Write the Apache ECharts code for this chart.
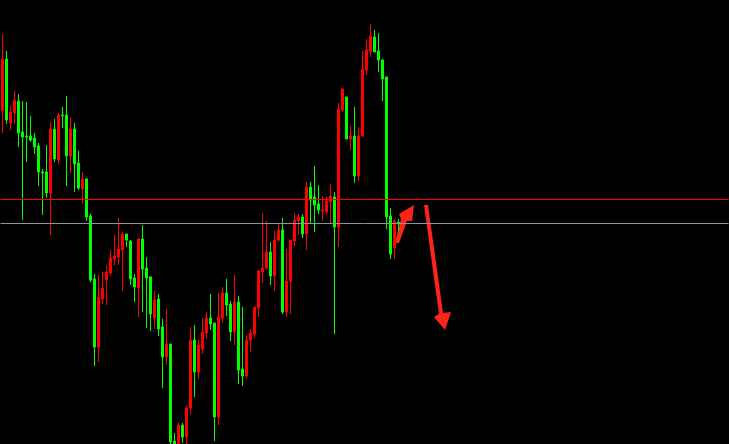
<!DOCTYPE html>
<html>
<head>
<meta charset="utf-8">
<script src="https://cdn.jsdelivr.net/npm/echarts@6/dist/echarts.min.js"></script>
<style>
html,body{margin:0;padding:0;background:#000;}
#chart{width:729px;height:444px;}
</style>
</head>
<body>
<div id="chart"></div>
<script>
// Price values (arbitrary points scale)
const opens  = [333,385,321,331,343,312,308,308,306,298,272,272,251,315,284,329,329,288,315,281,255,265,228,165,97,145,164,171,185,187,194,210,203,166,156,205,176,167,126,145,117,87,100,3,-4,19,7,36,104,72,95,111,126,121,27,126,151,140,112,142,75,68,104,110,136,172,176,192,168,204,214,132,163,203,223,227,210,257,247,240,233,232,242,247,217,334,347,305,308,268,308,374,392,407,393,384,367,228,196,222];
const closes = [385,324,332,344,311,307,307,304,297,272,271,251,315,285,329,328,288,315,280,256,265,227,164,97,147,156,172,186,188,195,210,204,165,157,205,175,166,130,144,115,87,100,2,-2,19,7,36,104,72,99,112,126,120,27,127,151,139,112,142,74,68,104,111,137,173,176,192,168,204,214,132,163,204,224,227,210,257,244,239,234,234,243,248,217,335,355,305,308,268,308,375,394,408,392,384,365,227,190,223,220];
const lows   = [311,320,314,320,297,224,282,302,290,258,229,246,209,282,280,316,258,271,252,254,240,223,162,78,82,140,139,168,179,179,153,197,159,142,127,132,116,113,115,108,56,79,-6,-10,-11,1,0,30,47,65,90,105,114,3,19,121,128,103,99,60,58,66,92,106,127,161,174,159,153,202,130,127,130,198,209,206,194,221,212,230,223,230,221,110,197,332,305,294,261,263,307,369,387,392,372,343,215,185,185,213];
const highs  = [410,393,338,353,350,343,342,328,311,301,275,299,322,325,331,337,348,327,321,293,272,266,230,170,169,172,179,194,209,226,212,210,204,170,206,219,187,168,153,150,125,135,100,11,21,21,38,117,119,105,126,132,150,121,151,157,165,143,169,148,137,109,115,137,174,231,223,202,213,221,226,195,204,231,230,230,262,262,278,259,248,247,260,252,341,356,347,318,337,317,393,405,420,414,411,385,367,236,225,225];
const levelLines = [245, 221];
const totalSlots = 182;

const categories = [];
for (let i = 0; i < totalSlots; i++) categories.push(String(i));
const ohlc = opens.map((o, i) => [o, closes[i], lows[i], highs[i]]);

const chart = echarts.init(document.getElementById('chart'), null, {renderer: 'canvas'});
chart.setOption({
  backgroundColor: '#000000',
  animation: false,
  grid: {left: 0.5, top: 0, width: 728, height: 444},
  xAxis: {
    type: 'category', data: categories, boundaryGap: true,
    axisLine: {show: false}, axisTick: {show: false}, axisLabel: {show: false}, splitLine: {show: false}
  },
  yAxis: {
    type: 'value', min: 0, max: 444,
    axisLine: {show: false}, axisTick: {show: false}, axisLabel: {show: false}, splitLine: {show: false}
  },
  series: [{
    type: 'candlestick',
    data: ohlc,
    barWidth: 3,
    clip: true,
    itemStyle: {
      color: '#ff0000', color0: '#00ff00',
      borderColor: '#ff0000', borderColor0: '#00ff00', borderWidth: 1
    },
    markLine: {
      silent: true, symbol: ['none', 'none'], label: {show: false},
      data: [
        {yAxis: levelLines[0], lineStyle: {color: '#ff0000', width: 1, type: 'solid'}},
        {yAxis: levelLines[1], lineStyle: {color: '#8a96a3', width: 1, type: 'solid'}}
      ]
    }
  }],
  graphic: [
    {type: 'polygon', shape: {points: [[395,243],[401,219],[399,214],[414,205],[412,221],[407,221],[399,243]]}, style: {fill: '#ff2418'}},
    {type: 'polygon', shape: {points: [[424,205],[428,205],[443,313],[451,312],[445,330],[434,317],[439,314]]}, style: {fill: '#ff2418'}}
  ]
});
</script>
</body>
</html>
